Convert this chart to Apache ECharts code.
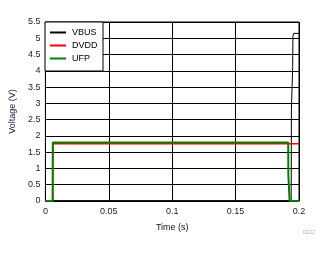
<!DOCTYPE html>
<html><head><meta charset="utf-8">
<script src="https://cdn.jsdelivr.net/npm/echarts@6/dist/echarts.min.js"></script>
<style>html,body{margin:0;padding:0;background:#fff}#c{width:328px;height:254px}</style>
</head><body><div id="c"></div>
<script>
// Time (s), Voltage (V)
const vbusT = [0, 0.1938, 0.1939, 0.1940, 0.1950, 0.1952, 0.1957, 0.2];
const vbusV = [0.01, 0.01, 0.8, 2.8, 4.1, 5.05, 5.15, 5.15];
const dvddT = [0, 0.0058, 0.0059, 0.2];
const dvddV = [0, 0, 1.76, 1.76];
const ufpT = [0, 0.0057, 0.0058, 0.1915, 0.1916, 0.1925, 0.1926, 0.2];
const ufpV = [0, 0, 1.80, 1.80, 0.8, 0.75, 0, 0];
const xTicks = ['0', '0.05', '0.1', '0.15', '0.2'];
const yTicks = ['0','0.5','1','1.5','2','2.5','3','3.5','4','4.5','5','5.5'];
const seriesNames = ['VBUS', 'DVDD', 'UFP'];
const seriesColors = ['#000000', '#ff0000', '#008000'];

const zip = (t, v) => t.map((x, i) => [x, v[i]]);
const F = 'Arial, "Liberation Sans", sans-serif';
const chart = echarts.init(document.getElementById('c'));
chart.setOption({
  animation: false,
  grid: { left: 45, right: 29, top: 22, bottom: 53, show: true, borderColor: '#000', borderWidth: 1 },
  xAxis: {
    type: 'value', min: 0, max: 0.2, interval: 0.05,
    name: 'Time (s)', nameLocation: 'middle', nameGap: 22,
    nameTextStyle: { color: '#111', fontSize: 9, fontFamily: F },
    axisLine: { lineStyle: { color: '#000' } }, axisTick: { show: false },
    axisLabel: { color: '#222', fontSize: 9, fontFamily: F, margin: 6,
      formatter: (v) => xTicks[Math.round(v / 0.05)] },
    splitLine: { lineStyle: { color: '#000', width: 1 } }
  },
  yAxis: {
    type: 'value', min: 0, max: 5.5, interval: 0.5,
    name: 'Voltage (V)', nameLocation: 'middle', nameGap: 18,
    nameTextStyle: { color: '#1a1a3a', fontSize: 9, fontFamily: F },
    axisLine: { show: true, lineStyle: { color: '#000' } }, axisTick: { show: false },
    axisLabel: { color: '#222', fontSize: 9, fontFamily: F, margin: 5,
      formatter: (v) => yTicks[Math.round(v / 0.5)] },
    splitLine: { lineStyle: { color: '#000', width: 1 } }
  },
  legend: {
    orient: 'vertical', left: 50, top: 28, padding: 0, itemWidth: 16, itemHeight: 2, itemGap: 4,
    z: 10, icon: 'rect',
    textStyle: { color: '#000', fontSize: 9, fontFamily: F, padding: [0, 0, 0, 1] },
    data: seriesNames
  },
  graphic: [
    { type: 'rect', z: 5, shape: { x: 45, y: 22, width: 58, height: 49 },
      style: { fill: '#fff', stroke: '#000', lineWidth: 1 } },
    { type: 'text', z: 5, left: 303, top: 230, style: { text: 'D012', fill: '#aaa', fontSize: 5, fontFamily: F } }
  ],
  series: [
    { name: seriesNames[0], type: 'line', showSymbol: false, data: zip(vbusT, vbusV),
      lineStyle: { color: seriesColors[0], width: 1 }, itemStyle: { color: seriesColors[0] } },
    { name: seriesNames[1], type: 'line', showSymbol: false, data: zip(dvddT, dvddV),
      lineStyle: { color: seriesColors[1], width: 1.5 }, itemStyle: { color: seriesColors[1] } },
    { name: seriesNames[2], type: 'line', showSymbol: false, data: zip(ufpT, ufpV),
      lineStyle: { color: seriesColors[2], width: 2 }, itemStyle: { color: seriesColors[2] } }
  ]
});
</script></body></html>
